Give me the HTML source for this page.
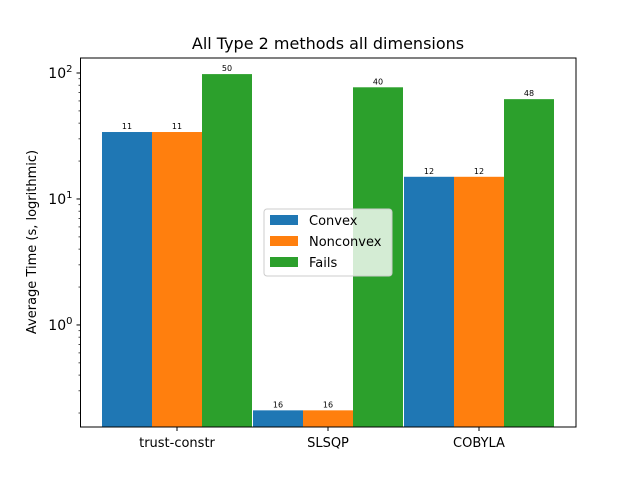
<!DOCTYPE html>
<html><head><meta charset="utf-8"><style>
body{margin:0;background:#fff}
svg{display:block;font-family:"DejaVu Sans","Liberation Sans",sans-serif}
</style></head><body>
<svg id="chart" width="640" height="480" xmlns="http://www.w3.org/2000/svg">
<rect width="640" height="480" fill="#fff"/>
<text x="328" y="49" text-anchor="middle" font-size="16">All Type 2 methods all dimensions</text>
<text transform="translate(36,242) rotate(-90)" text-anchor="middle" font-size="13">Average Time (s, logrithmic)</text>
<g id="bars"></g>
<g id="axes"></g>
<g>
<rect x="264" y="209" width="128" height="67" rx="3" fill="#fff" fill-opacity="0.8" stroke="#ccc"/>
<rect x="270" y="215" width="28" height="10" fill="#1f77b4"/>
<text x="309" y="225" font-size="13">Convex</text>
<rect x="270" y="236" width="28" height="10" fill="#ff7f0e"/>
<text x="309" y="246" font-size="13">Nonconvex</text>
<rect x="270" y="257" width="28" height="10" fill="#2ca02c"/>
<text x="309" y="267" font-size="13">Fails</text>
</g>
</svg>
<script>
const categories = ["trust-constr", "SLSQP", "COBYLA"];
const convexVals = [34, 0.21, 15];
const nonconvexVals = [34, 0.21, 15];
const failsVals = [98, 77, 62];
const convexCounts = ["11", "16", "12"];
const nonconvexCounts = ["11", "16", "12"];
const failsCounts = ["50", "40", "48"];
const yTickExps = [0, 1, 2];

const NS = "http://www.w3.org/2000/svg";
const L = 80.5, R = 576, T = 58, B = 427;
const yMin = -0.81, yMax = 2.119;
function y(v){ return B - (Math.log10(v) - yMin) / (yMax - yMin) * (B - T); }
const groupW = 151, barW = 50;
function gx(i){ return 177 + i * groupW; }
function mk(tag, attrs, parent){ const e = document.createElementNS(NS, tag); for (const k in attrs) e.setAttribute(k, attrs[k]); parent.appendChild(e); return e; }
const bars = document.getElementById('bars');
const axes = document.getElementById('axes');
const series = [
  {name:'convex', vals:convexVals, counts:convexCounts, color:'#1f77b4', off:-1},
  {name:'nonconvex', vals:nonconvexVals, counts:nonconvexCounts, color:'#ff7f0e', off:0},
  {name:'fails', vals:failsVals, counts:failsCounts, color:'#2ca02c', off:1}
];
series.forEach(s => {
  categories.forEach((c, i) => {
    const x0 = gx(i) + s.off * barW - barW / 2;
    const yt = y(s.vals[i]);
    const r = mk('rect', {x:x0, y:yt, width:barW, height:B - yt, fill:s.color}, bars);
    
    
    const t = mk('text', {x:x0 + barW / 2, y:yt - 3, 'text-anchor':'middle', 'font-size':'8'}, bars);
    t.textContent = s.counts[i];
    
    
  });
});
// frame
const fr = mk('rect', {x:L, y:T, width:R - L, height:B - T, fill:'none', stroke:'#000', 'stroke-width':1}, axes);


// y ticks
yTickExps.forEach(e => {
  const yy = y(Math.pow(10, e));
  mk('line', {x1:L - 4, x2:L, y1:yy, y2:yy, stroke:'#000'}, axes);
  const t = mk('text', {x:L - 8, y:yy + 5, 'text-anchor':'end', 'font-size':'14'}, axes);
  t.innerHTML = '10<tspan dy="-6" font-size="10">' + e + '</tspan>';
  
  
});
for (let e = -1; e <= 2; e++) {
  for (let m = 2; m <= 9; m++) {
    const v = m * Math.pow(10, e);
    const lv = Math.log10(v);
    if (lv < yMin || lv > yMax) continue;
    const yy = y(v);
    mk('line', {x1:L - 2, x2:L, y1:yy, y2:yy, stroke:'#000', 'stroke-width':0.7}, axes);
  }
}
// x ticks
categories.forEach((c, i) => {
  const xx = gx(i);
  mk('line', {x1:xx, x2:xx, y1:B, y2:B + 4, stroke:'#000'}, axes);
  const t = mk('text', {x:xx, y:B + 20, 'text-anchor':'middle', 'font-size':'13'}, axes);
  t.textContent = c;
  
  
});
</script>
</body></html>
